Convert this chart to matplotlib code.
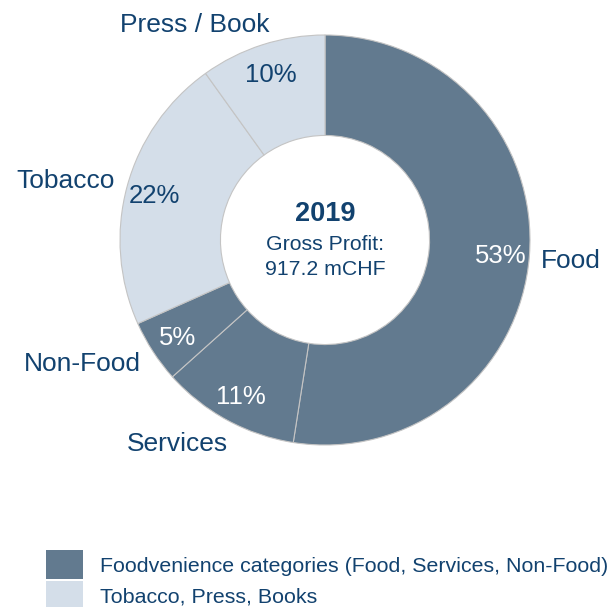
import matplotlib
matplotlib.use("Agg")
import matplotlib.pyplot as plt
from matplotlib.patches import Rectangle

plt.rcParams["font.family"] = ["Liberation Sans", "DejaVu Sans"]

# Gross profit split by category, 2019 (shares in %)
categories = ["Food", "Services", "Non-Food", "Tobacco", "Press / Book"]
shares = [53, 11, 5, 22, 10]
groups = ["foodvenience", "foodvenience", "foodvenience", "tobacco", "tobacco"]

group_names = {
    "foodvenience": "Foodvenience categories (Food, Services, Non-Food)",
    "tobacco": "Tobacco, Press, Books",
}
group_colors = {"foodvenience": "#627A8F", "tobacco": "#D4DEE9"}
pct_colors = {"foodvenience": "white", "tobacco": "#12426F"}

year = "2019"
center_lines = ["Gross Profit:", "917.2 mCHF"]

# anchor points for the category names (in units of the outer radius)
label_anchor = [(1.054, -0.10), (-0.473, -0.995), (-0.898, -0.607),
                (-1.024, 0.290), (-0.273, 1.050)]

NAVY = "#12426F"
W, H = 612, 607

fig = plt.figure(figsize=(W / 100, H / 100), dpi=100)
cx, cy, r = 325, 240, 205
ax = fig.add_axes([(cx - r) / W, (H - cy - r) / H, 2 * r / W, 2 * r / H])

total = sum(shares)
colors = [group_colors[g] for g in groups]

wedges, label_texts, pct_texts = ax.pie(
    shares,
    labels=categories,
    colors=colors,
    startangle=90,
    counterclock=False,
    radius=1.0,
    labeldistance=1.08,
    pctdistance=0.86,
    autopct=lambda p: f"{p * total / 100:.0f}%",
    wedgeprops=dict(width=0.49, edgecolor="#C4C4C4", linewidth=0.8),
    textprops=dict(fontsize=19, color=NAVY),
)
for t, g in zip(pct_texts, groups):
    t.set_color(pct_colors[g])
    t.set_fontsize(18.5)
    x, y = t.get_position()
    t.set_position((x, y - 0.012))
for t, (lx, ly) in zip(label_texts, label_anchor):
    t.set_position((lx, ly))
    t.set_ha("left" if lx > 0 else "right")
    t.set_va("center")
    t.set_clip_on(False)

ax.set_xlim(-1, 1)
ax.set_ylim(-1, 1)
ax.set_aspect("equal")
ax.axis("off")

ax.text(0, 0.125, year, ha="center", va="center", fontsize=19.5,
        fontweight="bold", color=NAVY)
ax.text(0, -0.02, center_lines[0], ha="center", va="center",
        fontsize=15.3, color=NAVY)
ax.text(0, -0.142, center_lines[1], ha="center", va="center",
        fontsize=15.3, color=NAVY)

# legend: one coloured square and caption per category group
row_top, row_pitch, box_h = 550, 31, 29
for i, (key, name) in enumerate(group_names.items()):
    top = row_top + row_pitch * i
    fig.add_artist(Rectangle((46 / W, 1 - (top + box_h) / H), 37 / W, box_h / H,
                             transform=fig.transFigure,
                             facecolor=group_colors[key], edgecolor="none"))
    fig.text(100 / W, 1 - (top + 16) / H, name, ha="left", va="center",
             fontsize=15.4, color=NAVY)

fig.savefig("out.png", dpi=100)
